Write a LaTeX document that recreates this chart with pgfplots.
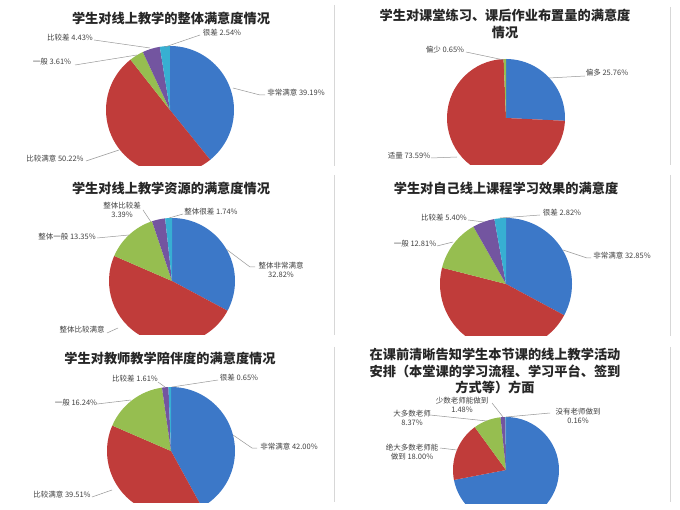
\documentclass[border=0pt]{standalone}
\usepackage{pgfplots}
\pgfplotsset{compat=1.18}
\usepackage{fontspec}
\setmainfont{Noto Sans CJK SC}

\definecolor{pblue}{RGB}{60,120,200}
\definecolor{pred}{RGB}{192,60,58}
\definecolor{pgreen}{RGB}{150,190,80}
\definecolor{ppurple}{RGB}{115,85,160}
\definecolor{pcyan}{RGB}{55,175,210}
\definecolor{labgray}{RGB}{64,64,64}
\definecolor{leadgray}{RGB}{150,150,150}
\definecolor{bordgray}{RGB}{215,215,215}

\tikzset{
  lab/.style={font=\fontsize{7.5}{9}\selectfont, text=labgray, inner sep=0pt, align=center},
  lead/.style={draw=leadgray, line width=0.5pt},
  ttl/.style={font=\fontsize{13.2}{16.5}\selectfont\bfseries, text=black!85, inner sep=0pt, align=center},
  bord/.style={draw=bordgray, line width=0.8pt}
}
\pgfplotsset{panel/.style={hide axis, scale only axis, width=340pt, height=#1pt,
  xmin=0, xmax=340, ymin=-#1, ymax=0}}

% pie: centre x, centre y (downwards), radius, list of value/colour
% slices start at 12 o'clock and run clockwise
\newcommand\pie[4]{%
  \gdef\acc{0}%
  \foreach \v/\c in {#4}{%
    \pgfmathsetmacro\sa{90-3.6*\acc}%
    \pgfmathsetmacro\ea{90-3.6*(\acc+\v)}%
    \edef\slice{\noexpand\fill[\c] (axis cs:#1,-#2) -- ++(\sa:#3pt)
      arc[start angle=\sa, end angle=\ea, radius=#3pt] -- cycle;}%
    \slice
    \pgfmathsetmacro\nacc{\acc+\v}%
    \global\let\acc\nacc
  }%
}

\begin{document}
\begin{tikzpicture}
\path[use as bounding box] (0,0) rectangle (680pt,-510pt);

% ---- 1
\begin{axis}[panel=166, at={(0pt,0pt)}, anchor=north west]
\pie{170}{110}{64}{39.19/pblue,50.22/pred,3.61/pgreen,4.43/ppurple,2.54/pcyan}
\node[ttl] at (axis cs:171,-18) {学生对线上教学的整体满意度情况};
\draw[lead] (axis cs:94,-40) -- (axis cs:150,-48);
\node[lab] at (axis cs:70,-38) {比较差 4.43\%};
\draw[lead] (axis cs:200,-35) -- (axis cs:165,-47);
\node[lab] at (axis cs:222,-33) {很差 2.54\%};
\draw[lead] (axis cs:75,-65) -- (axis cs:137,-55);
\node[lab] at (axis cs:52,-62) {一般 3.61\%};
\draw[lead] (axis cs:233,-88) -- (axis cs:260,-95) -- (axis cs:265,-95);
\node[lab] at (axis cs:296,-93) {非常满意 39.19\%};
\draw[lead] (axis cs:86,-161) -- (axis cs:119,-150);
\node[lab] at (axis cs:55,-159) {比较满意 50.22\%};
\draw[bord] (axis cs:334,-5) -- (axis cs:334,-167);
\end{axis}

% ---- 2
\begin{axis}[panel=165, at={(340pt,0pt)}, anchor=north west]
\pie{166}{118}{59}{25.76/pblue,73.59/pred,0.65/pgreen}
\node[ttl] at (axis cs:165,-24) {学生对课堂练习、课后作业布置量的满意度\\情况};
\draw[lead] (axis cs:126,-52) -- (axis cs:164,-60);
\node[lab] at (axis cs:105,-50) {偏少 0.65\%};
\draw[lead] (axis cs:245,-76) -- (axis cs:209,-78);
\node[lab] at (axis cs:267,-73) {偏多 25.76\%};
\draw[lead] (axis cs:91,-158) -- (axis cs:117,-157);
\node[lab] at (axis cs:69,-156) {适量 73.59\%};
\draw[bord] (axis cs:330,-7) -- (axis cs:330,-167);
\end{axis}

% ---- 3
\begin{axis}[panel=165, at={(0pt,-170pt)}, anchor=north west]
\pie{172}{111}{63}{32.82/pblue,48.70/pred,13.35/pgreen,3.39/ppurple,1.74/pcyan}
\node[ttl] at (axis cs:171,-18) {学生对线上教学资源的满意度情况};
\draw[lead] (axis cs:143,-40) -- (axis cs:151,-52);
\node[lab] at (axis cs:122,-40) {整体比较差\\3.39\%};
\draw[lead] (axis cs:183,-44) -- (axis cs:169,-48);
\node[lab] at (axis cs:211,-42) {整体很差 1.74\%};
\draw[lead] (axis cs:97,-68) -- (axis cs:129,-65);
\node[lab] at (axis cs:67,-67) {整体一般 13.35\%};
\draw[lead] (axis cs:226,-79) -- (axis cs:250,-97) -- (axis cs:255,-97);
\node[lab] at (axis cs:281,-99.5) {整体非常满意\\32.82\%};
\draw[lead] (axis cs:107,-163) -- (axis cs:118,-158);
\node[lab] at (axis cs:82,-160) {整体比较满意};
\draw[bord] (axis cs:334,-5) -- (axis cs:334,-167);
\end{axis}

% ---- 4
\begin{axis}[panel=166, at={(340pt,-170pt)}, anchor=north west]
\pie{166}{114}{66}{32.85/pblue,46.12/pred,12.81/pgreen,5.40/ppurple,2.82/pcyan}
\node[ttl] at (axis cs:166,-18) {学生对自己线上课程学习效果的满意度};
\draw[lead] (axis cs:128,-50) -- (axis cs:144,-52);
\node[lab] at (axis cs:104,-48) {比较差 5.40\%};
\draw[lead] (axis cs:200,-45) -- (axis cs:160,-48);
\node[lab] at (axis cs:222,-43) {很差 2.82\%};
\draw[lead] (axis cs:97,-76) -- (axis cs:113,-72);
\node[lab] at (axis cs:75,-74) {一般 12.81\%};
\draw[lead] (axis cs:223,-80) -- (axis cs:247,-88) -- (axis cs:251,-88);
\node[lab] at (axis cs:282,-86) {非常满意 32.85\%};
\draw[bord] (axis cs:330,-5) -- (axis cs:330,-167);
\end{axis}

% ---- 5
\begin{axis}[panel=162, at={(0pt,-340pt)}, anchor=north west]
\pie{171}{111}{64}{42.00/pblue,39.51/pred,16.24/pgreen,1.61/ppurple,0.65/pcyan}
\node[ttl] at (axis cs:170,-18) {学生对教师教学陪伴度的满意度情况};
\draw[lead] (axis cs:158,-42) -- (axis cs:165,-47);
\node[lab] at (axis cs:135,-39) {比较差 1.61\%};
\draw[lead] (axis cs:218,-40) -- (axis cs:172,-47);
\node[lab] at (axis cs:239,-38) {很差 0.65\%};
\draw[lead] (axis cs:97,-64) -- (axis cs:131,-60);
\node[lab] at (axis cs:76,-63) {一般 16.24\%};
\draw[lead] (axis cs:233,-95) -- (axis cs:252,-108) -- (axis cs:257,-108);
\node[lab] at (axis cs:289,-107) {非常满意 42.00\%};
\draw[lead] (axis cs:92,-157) -- (axis cs:112,-150);
\node[lab] at (axis cs:62,-155) {比较满意 39.51\%};
\draw[bord] (axis cs:334,-7) -- (axis cs:334,-162);
\end{axis}

% ---- 6
\begin{axis}[panel=163, at={(340pt,-340pt)}, anchor=north west]
\pie{166}{130}{53}{71.99/pblue,18.00/pred,8.37/pgreen,1.48/ppurple,0.16/pcyan}
\node[ttl] at (axis cs:155,-31) {在课前清晰告知学生本节课的线上教学活动\\安排（本堂课的学习流程、学习平台、签到\\方式等）方面};
\draw[lead] (axis cs:152,-63) -- (axis cs:163,-77);
\node[lab] at (axis cs:122,-65) {少数老师能做到\\1.48\%};
\draw[lead] (axis cs:210,-73) -- (axis cs:166,-77);
\node[lab] at (axis cs:238,-75.5) {没有老师做到\\0.16\%};
\draw[lead] (axis cs:90,-75) -- (axis cs:147,-81);
\node[lab] at (axis cs:72,-78) {大多数老师\\8.37\%};
\draw[lead] (axis cs:100,-108) -- (axis cs:117,-110);
\node[lab] at (axis cs:72,-112) {绝大多数老师能\\做到 18.00\%};
\draw[bord] (axis cs:330,-7) -- (axis cs:330,-162);
\end{axis}
\end{tikzpicture}
\end{document}
